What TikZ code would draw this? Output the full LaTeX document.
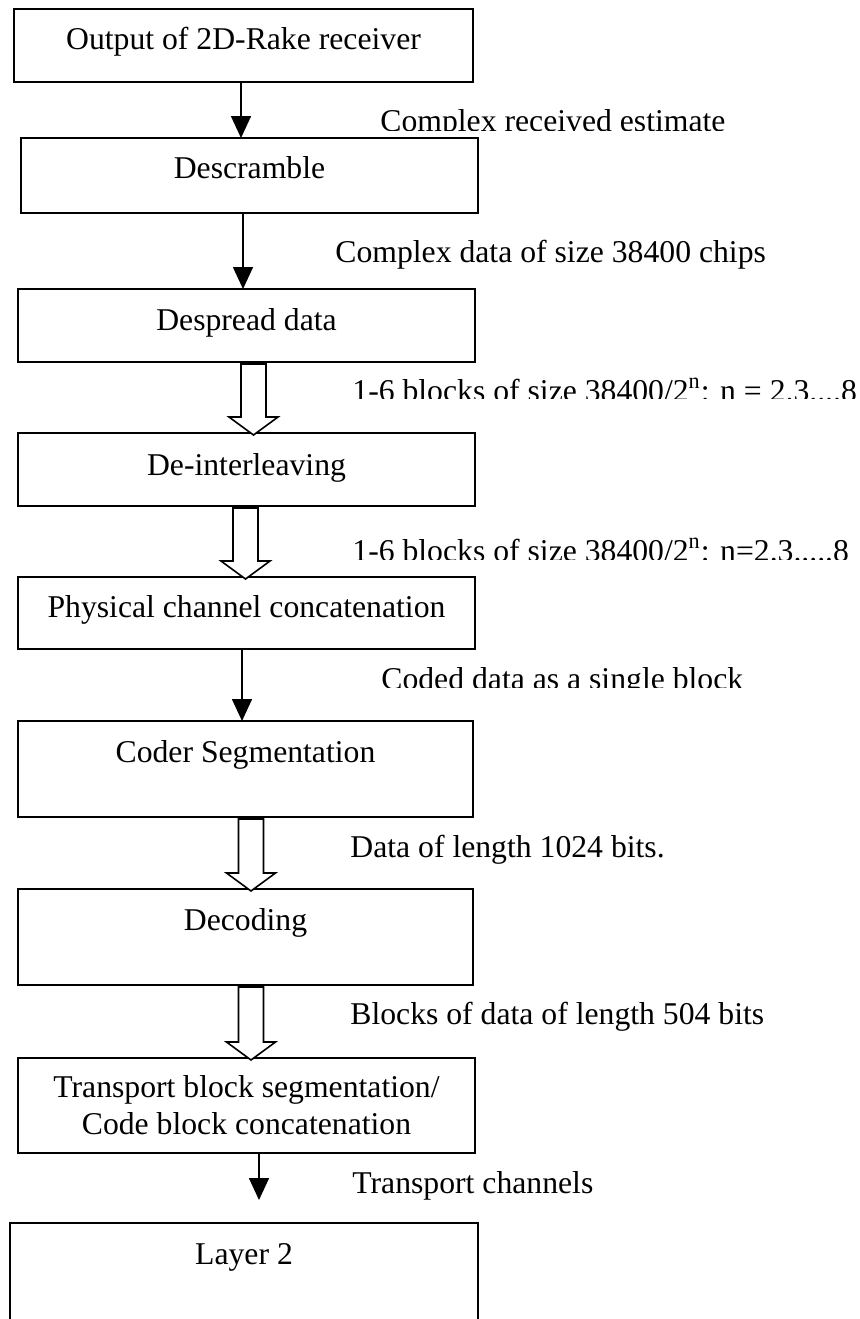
\documentclass[tikz,border=0pt]{standalone}
\usepackage{fontspec}
\setmainfont{Liberation Serif}
\usetikzlibrary{arrows.meta,fit,calc}
\newcommand\hollowarr[3]{%
  \draw[blockarr] let \p1=(#1.south), \p2=(#2.north), \n1={#3*0.5pt} in
    (\n1-6.25pt,\y1-1pt) -- (\n1-6.25pt,\y2+8pt) -- (\n1-12.25pt,\y2+8pt) --
    (\n1,\y2-1pt) -- (\n1+12.25pt,\y2+8pt) -- (\n1+6.25pt,\y2+8pt) --
    (\n1+6.25pt,\y1-1pt) -- cycle;}
\begin{document}
\begin{tikzpicture}[x=0.5pt,y=-0.5pt,
  box/.style={draw,line width=1pt,inner sep=0pt,outer sep=0pt,rectangle},
  btxt/.style={anchor=base,inner sep=0pt,align=center,font=\fontsize{15.85}{18.5}\selectfont},
  lbl/.style={anchor=base west,inner sep=0pt,font=\fontsize{15.85}{18.5}\selectfont},
  sarrow/.style={line width=0.8pt,-{Triangle[width=10pt,length=11pt]}},
  blockarr/.style={draw,line width=0.8pt,fill=white,line join=miter}]
\useasboundingbox (0,0) rectangle (859,1319);
\fill[white] (0,0) rectangle (859,1319);
\clip (0,0) rectangle (859,1319);

% boxes
\node[box,fit={(14,9) (473,82)}] (b1) {};
\node[box,fit={(21,138) (478,213)}] (b2) {};
\node[box,fit={(18,289) (475,362)}] (b3) {};
\node[box,fit={(18,433) (475,506)}] (b4) {};
\node[box,fit={(18,577) (475,649)}] (b5) {};
\node[box,fit={(18,721) (473,817)}] (b6) {};
\node[box,fit={(18,889) (473,985)}] (b7) {};
\node[box,fit={(18,1058) (475,1153)}] (b8) {};
\node[box,fit={(10,1223) (478,1345)}] (b9) {};

% box texts
\node[btxt] (t1) at ([yshift=-20pt]b1.north) {Output of 2D-Rake receiver};
\node[btxt] (t2) at ([yshift=-20pt]b2.north) {Descramble};
\node[btxt] (t3) at ([yshift=-20.5pt]b3.north) {Despread data};
\node[btxt] (t4) at ([yshift=-21pt]b4.north) {De-interleaving};
\node[btxt] (t5) at ([yshift=-20pt]b5.north) {Physical channel concatenation};
\node[btxt] (t6) at ([yshift=-20.5pt]b6.north) {Coder Segmentation};
\node[btxt] (t7) at ([yshift=-20.5pt]b7.north) {Decoding};
\node[btxt] (t8) at ([yshift=-38pt]b8.north) {Transport block segmentation/\\Code block concatenation};
\node[btxt] (t9) at ([yshift=-20.5pt]b9.north) {Layer 2};

% simple arrows
\draw[sarrow] ([xshift=-1.25pt]b1.south) -- ([xshift=-1.25pt]b1.south |- b2.north);
\draw[sarrow] ([xshift=-3.25pt]b2.south) -- ([xshift=-3.25pt]b2.south |- b3.north);
\draw[sarrow] ([xshift=-2.25pt]b5.south) -- ([xshift=-2.25pt]b5.south |- b6.north);
\draw[sarrow] ([xshift=6.25pt]b8.south) -- ([xshift=6.25pt,yshift=11.5pt]b8.south |- b9.north);

% block arrows
\hollowarr{b3}{b4}{253.5}
\hollowarr{b4}{b5}{245.5}
\hollowarr{b6}{b7}{251}
\hollowarr{b7}{b8}{251}

% labels
\begin{scope}
\clip (300,90) rectangle (859,130);
\node[lbl] (l1) at (380,131) {Complex received estimate};
\end{scope}
\node[lbl] (l2) at (335,262) {Complex data of size 38400 chips};
\begin{scope}
\clip (300,360) rectangle (859,398);
\node[lbl] (l3) at (352,401) {1-6 blocks of size 38400/2\textsuperscript{n}: n = 2.3....8};
\end{scope}
\begin{scope}
\clip (300,510) rectangle (859,559);
\node[lbl] (l4) at (352,561) {1-6 blocks of size 38400/2\textsuperscript{n}: n=2.3.....8};
\end{scope}
\begin{scope}
\clip (300,650) rectangle (859,687);
\node[lbl] (l5) at (381,689) {Coded data as a single block};
\end{scope}
\node[lbl] (l6) at (350,857) {Data of length 1024 bits.};
\node[lbl] (l7) at (350,1024) {Blocks of data of length 504 bits};
\node[lbl] (l8) at (352,1193) {Transport channels};
\end{tikzpicture}
\end{document}
